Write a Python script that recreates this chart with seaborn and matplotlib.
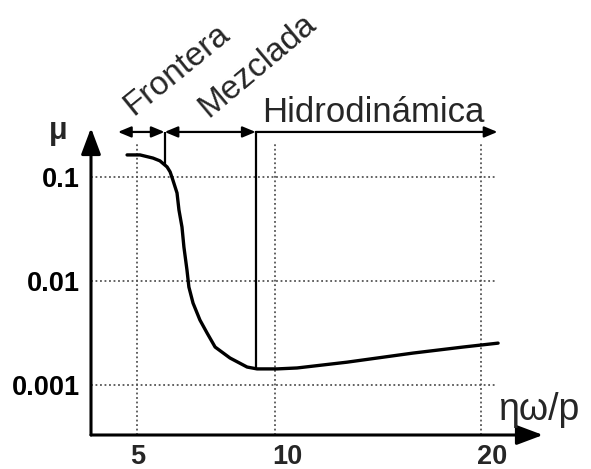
import numpy as np
import matplotlib
matplotlib.use("Agg")
import matplotlib.pyplot as plt
import seaborn as sns

# ---- data ----
x_curve = [4.64, 5.11, 5.58, 5.83, 6.09, 6.20, 6.30, 6.45, 6.52, 6.63, 6.70,
           6.81, 6.88, 7.03, 7.28, 7.54, 7.83, 8.37, 8.99, 9.35, 10.10, 11.07,
           13.50, 16.70, 19.13, 20.83]
mu_curve = [0.163, 0.163, 0.152, 0.143, 0.125, 0.112, 0.0935, 0.0702, 0.0482,
            0.0330, 0.0212, 0.0128, 0.00875, 0.00614, 0.00422, 0.00316,
            0.00232, 0.00182, 0.00149, 0.00143, 0.00143, 0.00146, 0.00166,
            0.00203, 0.00232, 0.00253]
x_ticks = [5, 10, 20]
x_tick_labels = ["5", "10", "20"]
y_ticks = [0.1, 0.01, 0.001]
y_tick_labels = ["0.1", "0.01", "0.001"]
regions = ["Frontera", "Mezclada", "Hidrodinámica"]
region_bounds = [4.31, 6.0, 9.3, 20.8]     # region arrow ends / boundaries
bound_bottoms = [0.13, 0.00140]            # where boundary lines meet curve
region_level = 0.271
x_label = "ηω/p"
y_label = "μ"

# ---- schematic (non-uniform) x scale of the original drawing ----
_d = np.array([0.0, 5.0, 10.0, 20.0, 30.0, 40.0])
_p = np.array([-1.0, 137.0, 275.0, 481.0, 687.0, 893.0])
def fwd(x):
    return np.interp(np.asarray(x, float), _d, _p)
def inv(p):
    return np.interp(np.asarray(p, float), _p, _d)

sns.set_theme(style="white")
plt.rcParams["font.family"] = ["Liberation Sans", "DejaVu Sans"]

W, H = 591, 469
fig = plt.figure(figsize=(W / 100, H / 100), dpi=100)
ax = fig.add_axes([91 / W, (H - 435) / H, 452 / W, 307 / H])
ax.set_xscale("function", functions=(fwd, inv))
ax.set_yscale("log")
ax.set_xlim(float(inv(91)), float(inv(543)))
ax.set_ylim(10 ** -3.48, 10 ** -0.529)

for s in ax.spines.values():
    s.set_visible(False)

# grid (dotted)
grid_kw = dict(color="#555555", linestyles=(0, (1, 1.5)), linewidth=1.3, zorder=1)
ax.hlines(y_ticks, ax.get_xlim()[0], 20.78, **grid_kw)
ax.vlines(x_ticks, ax.get_ylim()[0], 0.212, **grid_kw)

# curve
sns.lineplot(x=x_curve, y=mu_curve, ax=ax, color="black", linewidth=2.4,
             sort=False, zorder=3)

# boundary lines
ax.vlines(region_bounds[1:3], bound_bottoms, region_level, color="black",
          linewidth=1.6, zorder=3)

# region arrows
head = "head_length=0.6,head_width=0.25"
for i in range(3):
    style = ("<|-|>," if i < 2 else "-|>,") + head
    ax.annotate("", xy=(region_bounds[i + 1], region_level),
                xytext=(region_bounds[i], region_level),
                arrowprops=dict(arrowstyle=style, color="black", lw=1.6,
                                shrinkA=0, shrinkB=0, mutation_scale=13),
                annotation_clip=False)

# axes with arrows
for end in [(1, 0), (0, 1)]:
    ax.annotate("", xy=end, xytext=(0, 0), xycoords="axes fraction",
                arrowprops=dict(arrowstyle="-|>,head_length=0.8,head_width=0.3",
                                color="black", lw=2.2, shrinkA=0, shrinkB=0,
                                mutation_scale=20), annotation_clip=False)

# ticks
ax.set_yticks(y_ticks, y_tick_labels, fontsize=19.5, fontweight="bold")
ax.minorticks_off()
ax.tick_params(axis="y", length=0, pad=8, colors="black")
ax.set_xticks([])
x_offsets = [1, 12, 11]
for xv, lab, off in zip(x_ticks, x_tick_labels, x_offsets):
    ax.annotate(lab, xy=(xv, ax.get_ylim()[0]), xytext=(off, -22),
                textcoords="offset pixels", ha="center", va="center",
                fontsize=19.5, fontweight="bold", annotation_clip=False)

def ftext(px, py, s, **kw):
    fig.text(px / W, 1 - py / H, s, **kw)

ftext(58, 131, y_label, fontsize=22, fontweight="bold", ha="center", va="center")
ftext(498, 420, x_label, fontsize=27, ha="left", va="baseline")
ftext(133, 116, regions[0], fontsize=24, rotation=39, rotation_mode="anchor",
      ha="left", va="baseline")
ftext(208, 118, regions[1], fontsize=24, rotation=40, rotation_mode="anchor",
      ha="left", va="baseline")
ftext(262, 122, regions[2], fontsize=25, ha="left", va="baseline")

fig.savefig("out.png", dpi=100)
